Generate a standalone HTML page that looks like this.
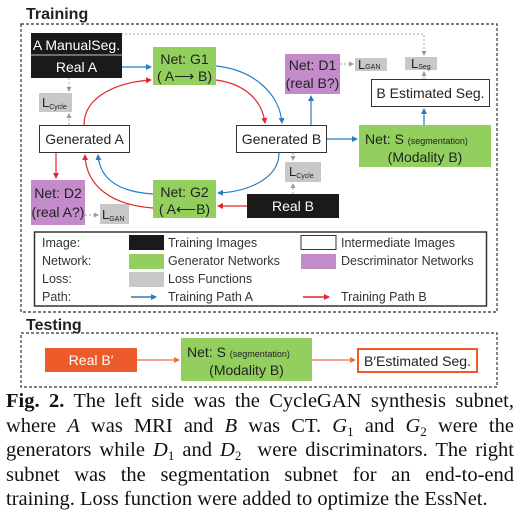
<!DOCTYPE html>
<html><head><meta charset="utf-8"><style>
html,body{margin:0;padding:0;background:#fff;}
body{width:526px;height:515px;position:relative;overflow:hidden;}
svg{position:absolute;left:0;top:0;}
.cap{position:absolute;left:6px;top:389px;width:508px;font-family:"Liberation Serif",serif;font-size:20.5px;line-height:24.5px;text-align:justify;color:#111;}
.cap sub{font-size:13px;line-height:0;vertical-align:baseline;position:relative;top:4px;}
</style></head><body>
<svg width="526" height="390" viewBox="0 0 526 390" font-family="Liberation Sans, sans-serif">
<defs>
<marker id="b" markerWidth="6" markerHeight="6" refX="5" refY="3" orient="auto" markerUnits="userSpaceOnUse"><path d="M0,0 L6,3 L0,6z" fill="#2b7cc2"/></marker>
<marker id="r" markerWidth="6" markerHeight="6" refX="5" refY="3" orient="auto" markerUnits="userSpaceOnUse"><path d="M0,0 L6,3 L0,6z" fill="#e5262b"/></marker>
<marker id="g" markerWidth="5" markerHeight="5" refX="4" refY="2.5" orient="auto" markerUnits="userSpaceOnUse"><path d="M0,0 L5,2.5 L0,5z" fill="#999"/></marker>
<marker id="o" markerWidth="6" markerHeight="6" refX="5" refY="3" orient="auto" markerUnits="userSpaceOnUse"><path d="M0,0 L6,3 L0,6z" fill="#ee6a3c"/></marker>
</defs>
<text x="26" y="19" font-size="16" font-weight="bold" fill="#222">Training</text>
<rect x="21" y="24" width="476" height="288" fill="none" stroke="#333" stroke-width="1.2" stroke-dasharray="3,2"/>
<text x="26" y="330" font-size="16" font-weight="bold" fill="#222">Testing</text>
<rect x="21" y="333" width="476" height="54" fill="none" stroke="#333" stroke-width="1.2" stroke-dasharray="3,2"/>

<g stroke="#aaa" stroke-width="1" stroke-dasharray="2,2" fill="none">
<path d="M121,34 H424 V55" marker-end="url(#g)"/>
<path d="M424,79 V72" marker-end="url(#g)"/>
<path d="M340,64 H353" marker-end="url(#g)"/>
<path d="M69,78 V91" marker-end="url(#g)"/>
<path d="M69,125 V114" marker-end="url(#g)"/>
<path d="M293,153 V160" marker-end="url(#g)"/>
<path d="M293,194 V184" marker-end="url(#g)"/>
<path d="M85,215 H98" marker-end="url(#g)"/>
</g>

<rect x="31" y="33" width="91" height="45" fill="#1a1a1a"/>
<line x1="31" y1="55" x2="122" y2="55" stroke="#fff" stroke-width="0.8"/>
<text x="76.5" y="50" font-size="14" fill="#fff" text-anchor="middle">A ManualSeg.</text>
<text x="76.5" y="72" font-size="14" fill="#fff" text-anchor="middle">Real A</text>

<rect x="153" y="47" width="63" height="38" fill="#92cf5e"/>
<text x="184.5" y="64" font-size="14" fill="#222" text-anchor="middle">Net: G1</text>
<text x="184.5" y="81" font-size="14" fill="#222" text-anchor="middle">( A⟶ B)</text>

<rect x="285" y="54" width="55" height="40" fill="#c38bc9"/>
<text x="312.5" y="70" font-size="14" fill="#222" text-anchor="middle">Net: D1</text>
<text x="312.5" y="88" font-size="14" fill="#222" text-anchor="middle">(real B?)</text>

<rect x="355" y="58" width="32" height="13" fill="#c8c8c8"/>
<text x="358" y="69" font-size="13" fill="#222">L<tspan font-size="7">GAN</tspan></text>
<rect x="405" y="57" width="32" height="13" fill="#c8c8c8"/>
<text x="411" y="68" font-size="13" fill="#222">L<tspan font-size="7" dy="1">Seg</tspan></text>

<rect x="371.5" y="79.5" width="118" height="27" fill="#fff" stroke="#333"/>
<text x="430.5" y="98" font-size="14" fill="#222" text-anchor="middle">B Estimated Seg.</text>

<rect x="39" y="93" width="33" height="19" fill="#c8c8c8"/>
<text x="42" y="107" font-size="13" fill="#222">L<tspan font-size="7" dy="2">Cycle</tspan></text>

<rect x="39.5" y="125.5" width="90" height="27" fill="#fff" stroke="#333"/>
<text x="84.5" y="144" font-size="14" fill="#222" text-anchor="middle">Generated A</text>
<rect x="236.5" y="125.5" width="90" height="27" fill="#fff" stroke="#333"/>
<text x="281.5" y="144" font-size="14" fill="#222" text-anchor="middle">Generated B</text>

<rect x="359" y="125" width="132" height="42" fill="#92cf5e"/>
<text x="365" y="144" font-size="14" fill="#222">Net: S <tspan font-size="9">(segmentation)</tspan></text>
<text x="425" y="162" font-size="14" fill="#222" text-anchor="middle">(Modality B)</text>

<rect x="285" y="162" width="36" height="20" fill="#c8c8c8"/>
<text x="289" y="176" font-size="13" fill="#222">L<tspan font-size="7" dy="2">Cycle</tspan></text>

<rect x="153" y="180" width="63" height="38" fill="#92cf5e"/>
<text x="184.5" y="197" font-size="14" fill="#222" text-anchor="middle">Net: G2</text>
<text x="184.5" y="214" font-size="14" fill="#222" text-anchor="middle">( A⟵B)</text>

<rect x="247" y="194" width="92" height="24" fill="#1a1a1a"/>
<text x="293" y="211" font-size="14" fill="#fff" text-anchor="middle">Real B</text>

<rect x="31" y="180" width="54" height="45" fill="#c38bc9"/>
<text x="58" y="198" font-size="14" fill="#222" text-anchor="middle">Net: D2</text>
<text x="58" y="217" font-size="14" fill="#222" text-anchor="middle">(real A?)</text>
<rect x="100" y="204" width="29" height="20" fill="#c8c8c8"/>
<text x="102" y="219" font-size="13" fill="#222">L<tspan font-size="7" dy="2">GAN</tspan></text>

<g fill="none" stroke-width="1.2">
<path d="M122,67 H151" stroke="#2b7cc2" marker-end="url(#b)"/>
<path d="M216,66 C255,70 280,95 282,123" stroke="#2b7cc2" marker-end="url(#b)"/>
<path d="M216,80 C245,84 262,100 265,123" stroke="#e5262b" marker-end="url(#r)"/>
<path d="M84,125 C84,95 120,82 151,80" stroke="#e5262b" marker-end="url(#r)"/>
<path d="M311,125 V96" stroke="#2b7cc2" marker-end="url(#b)"/>
<path d="M327,139 H357" stroke="#2b7cc2" marker-end="url(#b)"/>
<path d="M424,125 V109" stroke="#2b7cc2" marker-end="url(#b)"/>
<path d="M279,153 C279,180 245,192 218,193" stroke="#2b7cc2" marker-end="url(#b)"/>
<path d="M247,206 H218" stroke="#e5262b" marker-end="url(#r)"/>
<path d="M153,194 C120,192 100,180 98,155" stroke="#2b7cc2" marker-end="url(#b)"/>
<path d="M153,208 C110,205 86,185 85,155" stroke="#e5262b" marker-end="url(#r)"/>
<path d="M56,153 V178" stroke="#e5262b" marker-end="url(#r)"/>
</g>

<rect x="34.5" y="232" width="452" height="74" fill="#fff" stroke="#333" stroke-width="1.5"/>
<g font-size="12.5" fill="#333">
<text x="42" y="247">Image:</text>
<text x="42" y="265">Network:</text>
<text x="42" y="283">Loss:</text>
<text x="42" y="301">Path:</text>
<text x="168" y="247">Training Images</text>
<text x="168" y="265">Generator Networks</text>
<text x="168" y="283">Loss Functions</text>
<text x="168" y="301">Training Path A</text>
<text x="341" y="247">Intermediate Images</text>
<text x="341" y="265">Descriminator Networks</text>
<text x="341" y="301">Training Path B</text>
</g>
<rect x="129" y="235" width="35" height="15" fill="#1a1a1a"/>
<rect x="129" y="254" width="35" height="15" fill="#92cf5e"/>
<rect x="129" y="272" width="35" height="15" fill="#c8c8c8"/>
<line x1="131" y1="297" x2="156" y2="297" stroke="#2b7cc2" stroke-width="1.5" marker-end="url(#b)"/>
<rect x="301" y="235.5" width="35" height="14" fill="#fff" stroke="#333"/>
<rect x="301" y="254" width="35" height="15" fill="#c38bc9"/>
<line x1="303" y1="297" x2="329" y2="297" stroke="#e5262b" stroke-width="1.5" marker-end="url(#r)"/>

<rect x="45" y="348" width="92" height="24" fill="#ee5a2a"/>
<text x="91" y="365" font-size="14" fill="#fff" text-anchor="middle">Real B′</text>
<path d="M137,360 H179" stroke="#ee6a3c" stroke-width="1.2" marker-end="url(#o)"/>
<rect x="181" y="338" width="131" height="43" fill="#92cf5e"/>
<text x="187" y="357" font-size="14" fill="#222">Net: S <tspan font-size="9">(segmentation)</tspan></text>
<text x="246.5" y="375" font-size="14" fill="#222" text-anchor="middle">(Modality B)</text>
<path d="M312,360 H355" stroke="#ee6a3c" stroke-width="1.2" marker-end="url(#o)"/>
<rect x="358" y="349" width="119" height="23" fill="#fff" stroke="#ee5a2a" stroke-width="2"/>
<text x="417.5" y="366" font-size="14" fill="#222" text-anchor="middle">B′Estimated Seg.</text>
</svg>
<div class="cap"><b>Fig. 2.</b> The left side was the CycleGAN synthesis subnet, where <i>A</i> was MRI and <i>B</i> was CT. <i>G</i><sub>1</sub> and <i>G</i><sub>2</sub> were the generators while <i>D</i><sub>1</sub> and <i>D</i><sub>2</sub> &nbsp;were discriminators. The right subnet was the segmentation subnet for an end-to-end training. Loss function were added to optimize the EssNet.</div>
</body></html>
